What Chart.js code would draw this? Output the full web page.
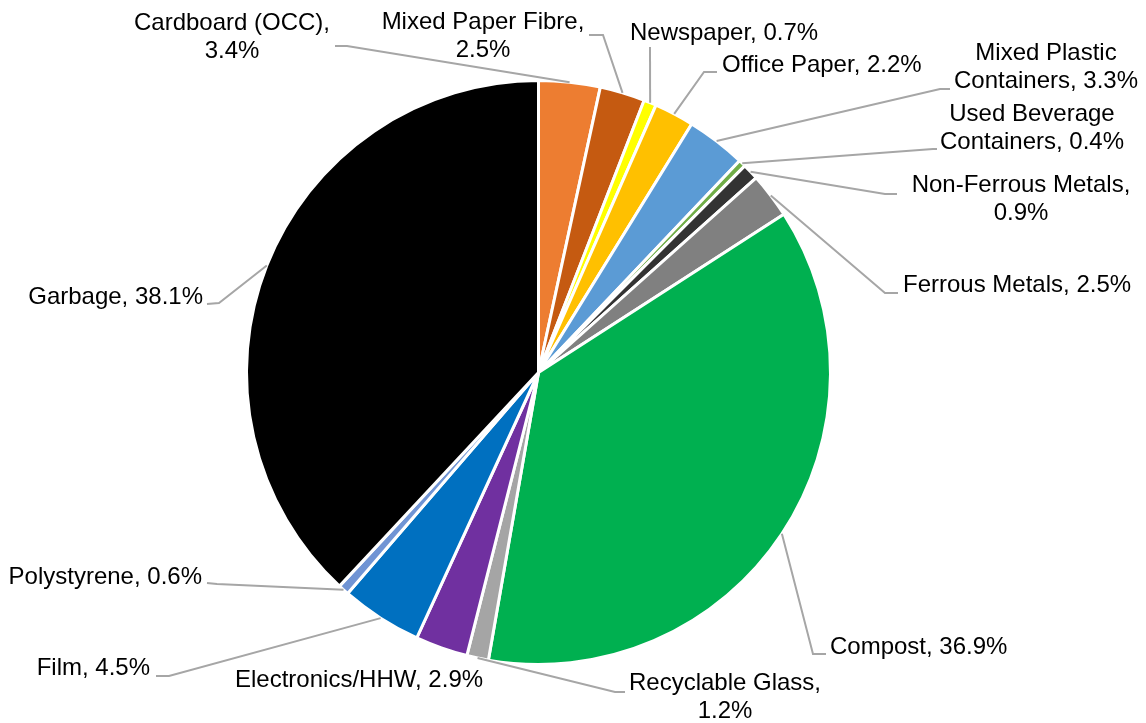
<!DOCTYPE html>
<html>
<head>
<meta charset="utf-8">
<script src="https://cdn.jsdelivr.net/npm/chart.js@4.4.1/dist/chart.umd.min.js"></script>
<style>
  html, body { margin: 0; padding: 0; background: #ffffff; }
  #wrap { position: relative; width: 1146px; height: 723px; }
</style>
</head>
<body>
<div id="wrap"><canvas id="myChart"></canvas></div>
<script>
// data
const categories = ['Cardboard (OCC)', 'Mixed Paper Fibre', 'Newspaper', 'Office Paper',
    'Mixed Plastic Containers', 'Used Beverage Containers', 'Non-Ferrous Metals', 'Ferrous Metals',
    'Compost', 'Recyclable Glass', 'Electronics/HHW', 'Film', 'Polystyrene', 'Garbage'];
const shares = [3.4, 2.5, 0.7, 2.2, 3.3, 0.4, 0.9, 2.5, 36.9, 1.2, 2.9, 4.5, 0.6, 38.1];
const sliceColors = ['#ED7D31', '#C55A11', '#FFFF00', '#FFC000', '#5B9BD5', '#70AD47', '#333333', '#808080',
    '#00B050', '#A5A5A5', '#7030A0', '#0070C0', '#7094D4', '#000000'];

// label text lines (Excel wraps some of them)
const labelLines = [
    ['Cardboard (OCC),', '3.4%'],
    ['Mixed Paper Fibre,', '2.5%'],
    ['Newspaper, 0.7%'],
    ['Office Paper, 2.2%'],
    ['Mixed Plastic', 'Containers, 3.3%'],
    ['Used Beverage', 'Containers, 0.4%'],
    ['Non-Ferrous Metals,', '0.9%'],
    ['Ferrous Metals, 2.5%'],
    ['Compost, 36.9%'],
    ['Recyclable Glass,', '1.2%'],
    ['Electronics/HHW, 2.9%'],
    ['Film, 4.5%'],
    ['Polystyrene, 0.6%'],
    ['Garbage, 38.1%']
];

// where each label sits and how its leader line bends (page layout, not data)
const labelLayout = [
    { x: 232, y: 23, align: 'center', lead: [[335, 46], [347, 46]] },
    { x: 483, y: 22, align: 'center', lead: [[589, 35], [603, 35]] },
    { x: 630, y: 33, align: 'left', lead: [[650, 47]] },
    { x: 722, y: 65, align: 'left', lead: [[717, 72], [704, 72]] },
    { x: 1046, y: 53, align: 'center', lead: [[950, 89], [940, 89]] },
    { x: 1032, y: 114, align: 'center', lead: [[937, 149], [933, 149]] },
    { x: 1021, y: 185, align: 'center', lead: [[897, 194], [885, 194]] },
    { x: 903, y: 285, align: 'left', lead: [[898, 293], [885, 293]] },
    { x: 830, y: 647, align: 'left', lead: [[826, 654], [813, 654]] },
    { x: 725, y: 683, align: 'center', lead: [[625, 692], [615, 692]] },
    { x: 235, y: 680, align: 'left', lead: null },
    { x: 150, y: 668, align: 'right', lead: [[156, 676], [169, 676]] },
    { x: 202, y: 577, align: 'right', lead: [[207, 583], [217, 584]] },
    { x: 203, y: 297, align: 'right', lead: [[207, 304], [219, 303]] }
];

const pieLabels = {
    id: 'pieLabels',
    afterDatasetsDraw(chart) {
        const ctx = chart.ctx;
        const arcs = chart.getDatasetMeta(0).data;
        ctx.save();
        arcs.forEach((arc, i) => {
            const lay = labelLayout[i];
            if (lay.lead) {
                const mid = (arc.startAngle + arc.endAngle) / 2;
                const ax = arc.x + Math.cos(mid) * arc.outerRadius;
                const ay = arc.y + Math.sin(mid) * arc.outerRadius;
                ctx.strokeStyle = '#A6A6A6';
                ctx.lineWidth = 2;
                ctx.beginPath();
                ctx.moveTo(lay.lead[0][0], lay.lead[0][1]);
                for (let k = 1; k < lay.lead.length; k++) ctx.lineTo(lay.lead[k][0], lay.lead[k][1]);
                ctx.lineTo(ax, ay);
                ctx.stroke();
            }
            ctx.fillStyle = '#000000';
            ctx.font = '24px "Liberation Sans", Arial, sans-serif';
            ctx.textAlign = lay.align;
            ctx.textBaseline = 'middle';
            labelLines[i].forEach((line, j) => {
                ctx.fillText(line, lay.x, lay.y + j * 28);
            });
        });
        ctx.restore();
    }
};

const ctx = document.getElementById('myChart').getContext('2d');
const myChart = new Chart(ctx, {
    type: 'pie',
    data: {
        labels: categories,
        datasets: [{
            data: shares,
            backgroundColor: sliceColors,
            borderColor: '#FFFFFF',
            borderWidth: 3
        }]
    },
    options: {
        responsive: true,
        maintainAspectRatio: false,
        animation: false,
        layout: {
            padding: { left: 245, top: 79, right: 314, bottom: 57 }
        },
        plugins: {
            legend: { display: false },
            tooltip: { enabled: false }
        }
    },
    plugins: [pieLabels]
});
</script>
</body>
</html>
